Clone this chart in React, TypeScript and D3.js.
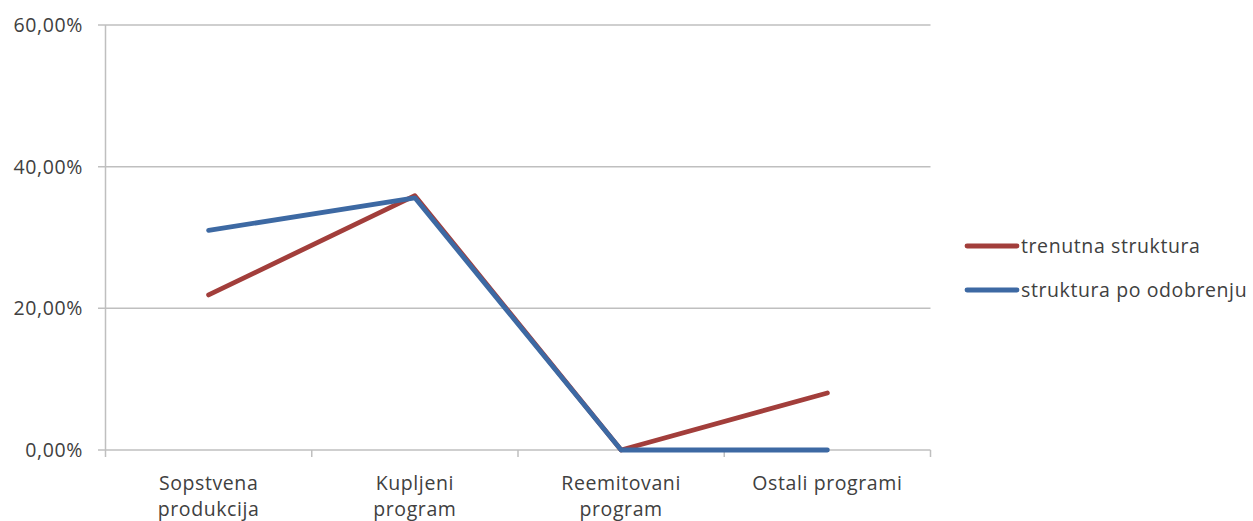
import React from "react";
import * as d3 from "d3";

const categories = [["Sopstvena", "produkcija"], ["Kupljeni", "program"], ["Reemitovani", "program"], ["Ostali programi"]];
const categoryKeys = ["Sopstvena produkcija", "Kupljeni program", "Reemitovani program", "Ostali programi"];
const trenutna = [21.9, 35.9, 0, 8.05];
const poOdobrenju = [31.0, 35.6, 0, 0];
const yTicks = [0, 20, 40, 60];
const seriesNames = ["trenutna struktura", "struktura po odobrenju"];
const seriesColors = ["#A23E3B", "#3D69A3"];

const W = 1253, H = 521;
const left = 105.5, right = 930.5, top = 25, bottom = 450;
const font = "'Open Sans', 'Noto Sans', sans-serif";
const fs = 19.5;
const ls = 0.6;

export default function App() {
  const x = d3.scaleBand().domain(categoryKeys).range([left, right]);
  const y = d3.scaleLinear().domain([0, 60]).range([bottom, top]);
  const line = d3.line<number>()
    .x((_, i) => (x(categoryKeys[i]) as number) + x.bandwidth() / 2)
    .y((d) => y(d));
  const series = [trenutna, poOdobrenju];
  const grid = "#BFBFBF";
  return (
    <svg width={W} height={H} style={{ position: "absolute", left: 0, top: 0 }} fontFamily={font}>
      <rect width={W} height={H} fill="#fff" />
      {yTicks.map((t) => (
        <g key={t}>
          <line x1={98} x2={right} y1={y(t)} y2={y(t)} stroke={grid} strokeWidth={1.5} />
          <text x={83} y={y(t) + 7} textAnchor="end" fontSize={fs} letterSpacing={ls} fill="#404040">
            {t.toFixed(2).replace(".", ",")}%
          </text>
        </g>
      ))}
      <line x1={left} x2={left} y1={top} y2={bottom} stroke={grid} strokeWidth={1.5} />
      {[...categoryKeys.map((c) => x(c) as number), right].map((v, i) => (
        <line key={i} x1={v} x2={v} y1={bottom} y2={bottom + 7} stroke={grid} strokeWidth={1.5} />
      ))}
      {categories.map((lines, i) => (
        <text key={i} textAnchor="middle" fontSize={fs} letterSpacing={ls} fill="#404040">
          {lines.map((l, j) => (
            <tspan key={j} x={(x(categoryKeys[i]) as number) + x.bandwidth() / 2} y={490 + j * 26}>{l}</tspan>
          ))}
        </text>
      ))}
      {series.map((s, i) => (
        <path key={i} d={line(s) as string} fill="none" stroke={seriesColors[i]} strokeWidth={4.8} strokeLinejoin="round" strokeLinecap="round" />
      ))}
      {seriesNames.map((n, i) => (
        <g key={n}>
          <line x1={967} x2={1017} y1={246 + i * 44} y2={246 + i * 44} stroke={seriesColors[i]} strokeWidth={4.8} strokeLinecap="round" />
          <text x={1021} y={253 + i * 44} fontSize={fs} letterSpacing={ls} fill="#404040">{n}</text>
        </g>
      ))}
    </svg>
  );
}
